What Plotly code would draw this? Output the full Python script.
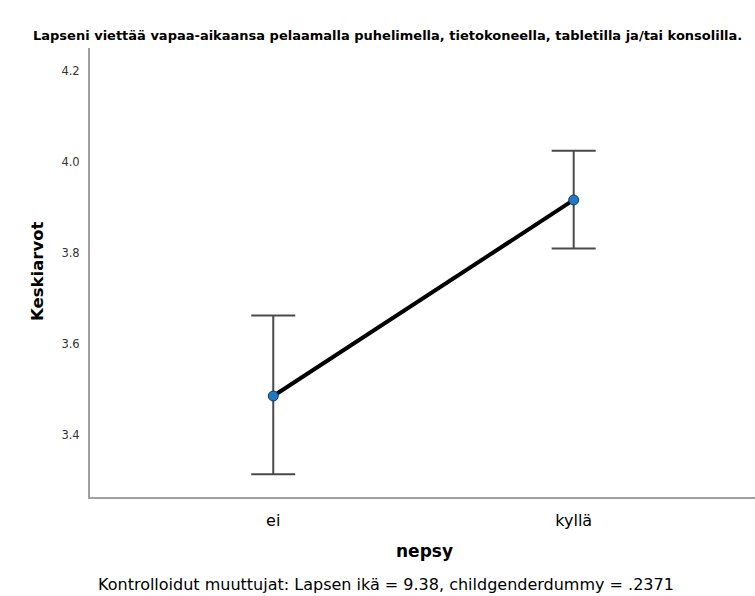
import plotly.graph_objects as go

categories = ["ei", "kyllä"]
means = [3.485, 3.916]
ci_upper = [3.662, 4.024]
ci_lower = [3.313, 3.809]
y_ticks = [3.4, 3.6, 3.8, 4.0, 4.2]

title_text = "Lapseni viettää vapaa-aikaansa pelaamalla puhelimella, tietokoneella, tabletilla ja/tai konsolilla."
caption_text = "Kontrolloidut muuttujat: Lapsen ikä = 9.38, childgenderdummy = .2371"

err_plus = [u - m for u, m in zip(ci_upper, means)]
err_minus = [m - l for m, l in zip(means, ci_lower)]

FONT = "DejaVu Sans"

# plot area in pixels: x 90..755, y 48..497
L, T, B = 90, 48, 497
W = 755 - L
H = B - T

fig = go.Figure()
fig.add_trace(go.Scatter(
    x=categories, y=means, mode="lines+markers",
    line=dict(color="black", width=4),
    marker=dict(size=10, color="#1f78c8", line=dict(color="#1a3550", width=1)),
    error_y=dict(type="data", symmetric=False, array=err_plus, arrayminus=err_minus,
                 color="#4a4a4a", thickness=2, width=22),
    showlegend=False, cliponaxis=False,
))

fig.update_layout(
    width=755, height=596,
    margin=dict(l=L, r=0, t=T, b=596 - B),
    paper_bgcolor="white", plot_bgcolor="white",
    font=dict(family=FONT, color="black"),
    xaxis=dict(
        type="category", range=[-0.61, 1.6035],
        showgrid=False, zeroline=False,
        showline=True, linecolor="#a0a0a0", linewidth=2,
        ticks="", tickfont=dict(size=16, family=FONT, color="black"),
        ticklabelstandoff=8,
    ),
    yaxis=dict(
        range=[3.263, 4.25], tickvals=y_ticks, ticktext=[f"{v:.1f}" for v in y_ticks],
        showgrid=False, zeroline=False,
        showline=True, linecolor="#a0a0a0", linewidth=2,
        ticks="", ticklen=0, tickfont=dict(size=11.5, family=FONT, color="#333333"),
        ticklabelstandoff=6,
    ),
    annotations=[
        dict(text=f"<b>{title_text}</b>", xref="paper", yref="paper", x=(387 - L) / W, y=1,
             yshift=T - 35, xanchor="center", yanchor="middle", showarrow=False,
             font=dict(size=13, family=FONT, color="black")),
        dict(text="<b>Keskiarvot</b>", xref="paper", yref="paper", x=0, xshift=37 - L,
             y=(B - 272) / H, yanchor="middle", xanchor="center", textangle=-90, showarrow=False,
             font=dict(size=16.5, family=FONT, color="black")),
        dict(text="<b>nepsy</b>", xref="paper", yref="paper", x=(424 - L) / W, y=0,
             yshift=B - 551, xanchor="center", yanchor="middle", showarrow=False,
             font=dict(size=17, family=FONT, color="black")),
        dict(text=caption_text, xref="paper", yref="paper", x=(386 - L) / W, y=0,
             yshift=B - 584, xanchor="center", yanchor="middle", showarrow=False,
             font=dict(size=16, family=FONT, color="black")),
    ],
)

fig.write_html("out.html")
